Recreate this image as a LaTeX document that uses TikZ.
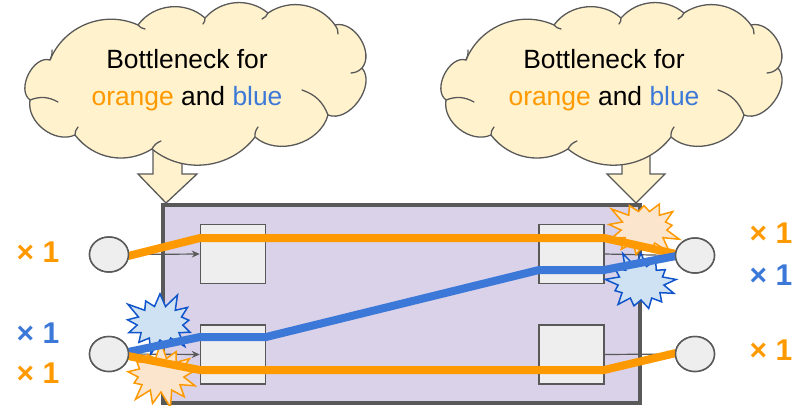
\documentclass[tikz,border=0pt]{standalone}
\usepackage{fontspec}
\setmainfont{Liberation Sans}
\usetikzlibrary{shapes.symbols, shapes.geometric, arrows.meta}
\definecolor{frame}{HTML}{595959}
\definecolor{lav}{HTML}{D9D2E9}
\definecolor{boxgray}{HTML}{EEEEEE}
\definecolor{flowO}{HTML}{FF9900}
\definecolor{flowB}{HTML}{3C78D8}
\definecolor{cloudfill}{HTML}{FFF2CC}
\definecolor{burstOfill}{HTML}{FCE5CD}
\definecolor{burstBfill}{HTML}{CFE2F3}
\definecolor{burstBline}{HTML}{1155CC}
\tikzset{
  switchbox/.style={draw=frame, fill=lav, line width=4.5pt},
  queuebox/.style={draw=frame, fill=boxgray, line width=1.5pt, minimum width=65pt, minimum height=59pt, inner sep=0pt},
  host/.style={ellipse, draw=frame, fill=boxgray, line width=1.5pt, minimum width=39pt, minimum height=35pt, inner sep=0pt},
  link/.style={draw=frame, line width=1.2pt, -{Stealth[length=8pt,width=7pt]}},
  flowline/.style={line width=8pt, line join=round},
  cloudline/.style={draw=frame, line width=1.3pt, line cap=round, line join=round},
  pointer/.style={draw=frame, fill=cloudfill, line width=1.3pt, line join=miter},
  bang/.style={starburst, starburst points=13, starburst point height=17pt, minimum width=80pt, minimum height=68pt, line width=1.5pt, inner sep=0pt},
  orangebang/.style={bang, draw=flowO, fill=burstOfill},
  bluebang/.style={bang, draw=burstBline, fill=burstBfill},
  caption/.style={font=\fontsize{26.4pt}{30pt}\selectfont, anchor=base},
  count/.style={font=\fontsize{30pt}{34pt}\selectfont\bfseries, anchor=center},
  % scalloped thought cloud with short inner strokes where the puffs meet
  bubble/.pic={
    \path[cloudline, fill=cloudfill]
      (50,60) to[bend left=46] (138,25)
      to[bend left=48] (205,18)
      to[bend left=44] (268,13)
      to[bend left=44] (335,25)
      to[bend left=72] (362,68)
      to[bend left=76] (328,115)
      to[bend left=58] (255,137)
      to[bend left=46] (152,149)
      to[bend left=42] (75,135)
      to[bend left=62] (30,100)
      to[bend left=80] cycle;
    \draw[cloudline] (30,100) to[bend left=25] (58,102);
    \draw[cloudline] (50,60) to[bend right=15] (52,50);
    \draw[cloudline] (75,135) to[bend left=20] (78,127);
    \draw[cloudline] (152,149) to[bend left=20] (161,141);
    \draw[cloudline] (255,137) to[bend left=20] (258,127);
    \draw[cloudline] (328,115) to[bend right=25] (302,90);
    \draw[cloudline] (362,68) to[bend left=20] (351,73);
    \draw[cloudline] (335,25) to[bend left=20] (338,34);
    \draw[cloudline] (268,13) to[bend left=20] (262,19);
    \draw[cloudline] (205,18) to[bend left=20] (203,24);
    \draw[cloudline] (138,25) to[bend right=20] (145,29);
  },
}
\begin{document}
\begin{tikzpicture}[x=1pt, y=-1pt]
\useasboundingbox (0,0) rectangle (803,405);

% block arrows pointing at the switch, tucked under the clouds
\draw[pointer] (153,140) -- (153,174) -- (138,174) -- (166,203) -- (197,174) -- (182,174) -- (182,140);
\draw[pointer] (622,140) -- (622,174) -- (607,174) -- (636,203) -- (665,174) -- (650,174) -- (650,140);

% thought clouds
\pic (cloudL) at (0,0) {bubble};
\pic (cloudR) at (416,0) {bubble};
\node[caption] (capL1) at (187,68) {Bottleneck for};
\node[caption] (capL2) at (187,105) {\textcolor{flowO}{orange} and \textcolor{flowB}{blue}};
\node[caption] (capR1) at (604,68) {Bottleneck for};
\node[caption] (capR2) at (604,105) {\textcolor{flowO}{orange} and \textcolor{flowB}{blue}};

% switch body
\draw[switchbox] (163,205) rectangle (640,403);

% queues
\node[queuebox] (qL1) at (233,254) {};
\node[queuebox] (qL2) at (233,354.5) {};
\node[queuebox] (qR1) at (571.5,254) {};
\node[queuebox] (qR2) at (571.5,354.5) {};

% hosts
\node[host] (hL1) at (109,254.5) {};
\node[host] (hL2) at (109,354) {};
\node[host] (hR1) at (695,255.5) {};
\node[host] (hR2) at (695,354) {};

% physical links
\draw[link] (hL1.east) -- (qL1.west);
\draw[link] (hL2.east) -- (qL2.west);
\draw[link] (qR1.east) -- (hR1.west);
\draw[link] (qR2.east) -- (hR2.west);

% congestion bursts
\node[bluebang] (burstL) at (160,323) {};
\node[orangebang, random starburst=7] (burstL2) at (161,375) {};
\node[orangebang, random starburst=3] (burstR1) at (644,228) {};
\node[bluebang, random starburst=11] (burstR2) at (641,283) {};

% flows
\coordinate (oA) at (128,256);
\coordinate (oB) at (200,238);
\coordinate (oC) at (604,238);
\coordinate (oD) at (676,254);
\draw[flowline, flowO] (oA) -- (oB) -- (oC) -- (oD);

\coordinate (bA) at (128,352);
\coordinate (bB) at (200,337);
\coordinate (bC) at (266,337);
\coordinate (bD) at (539,270);
\coordinate (bE) at (604,270);
\coordinate (bF) at (676,256);
\draw[flowline, flowB] (bA) -- (bB) -- (bC) -- (bD) -- (bE) -- (bF);

\coordinate (pA) at (128,356);
\coordinate (pB) at (200,370);
\coordinate (pC) at (604,370);
\coordinate (pD) at (676,353);
\draw[flowline, flowO] (pA) -- (pB) -- (pC) -- (pD);

% hosts redrawn on top of the flow ends
\node[host] at (hL1) {};
\node[host] at (hL2) {};
\node[host] at (hR1) {};
\node[host] at (hR2) {};

% flow counts
\node[count, text=flowO] (nL1) at (38,252) {× 1};
\node[count, text=flowB] (nL2) at (38,333) {× 1};
\node[count, text=flowO] (nL3) at (38,373) {× 1};
\node[count, text=flowO] (nR1) at (771,233) {× 1};
\node[count, text=flowB] (nR2) at (771,275) {× 1};
\node[count, text=flowO] (nR3) at (771,350) {× 1};
\end{tikzpicture}
\end{document}
